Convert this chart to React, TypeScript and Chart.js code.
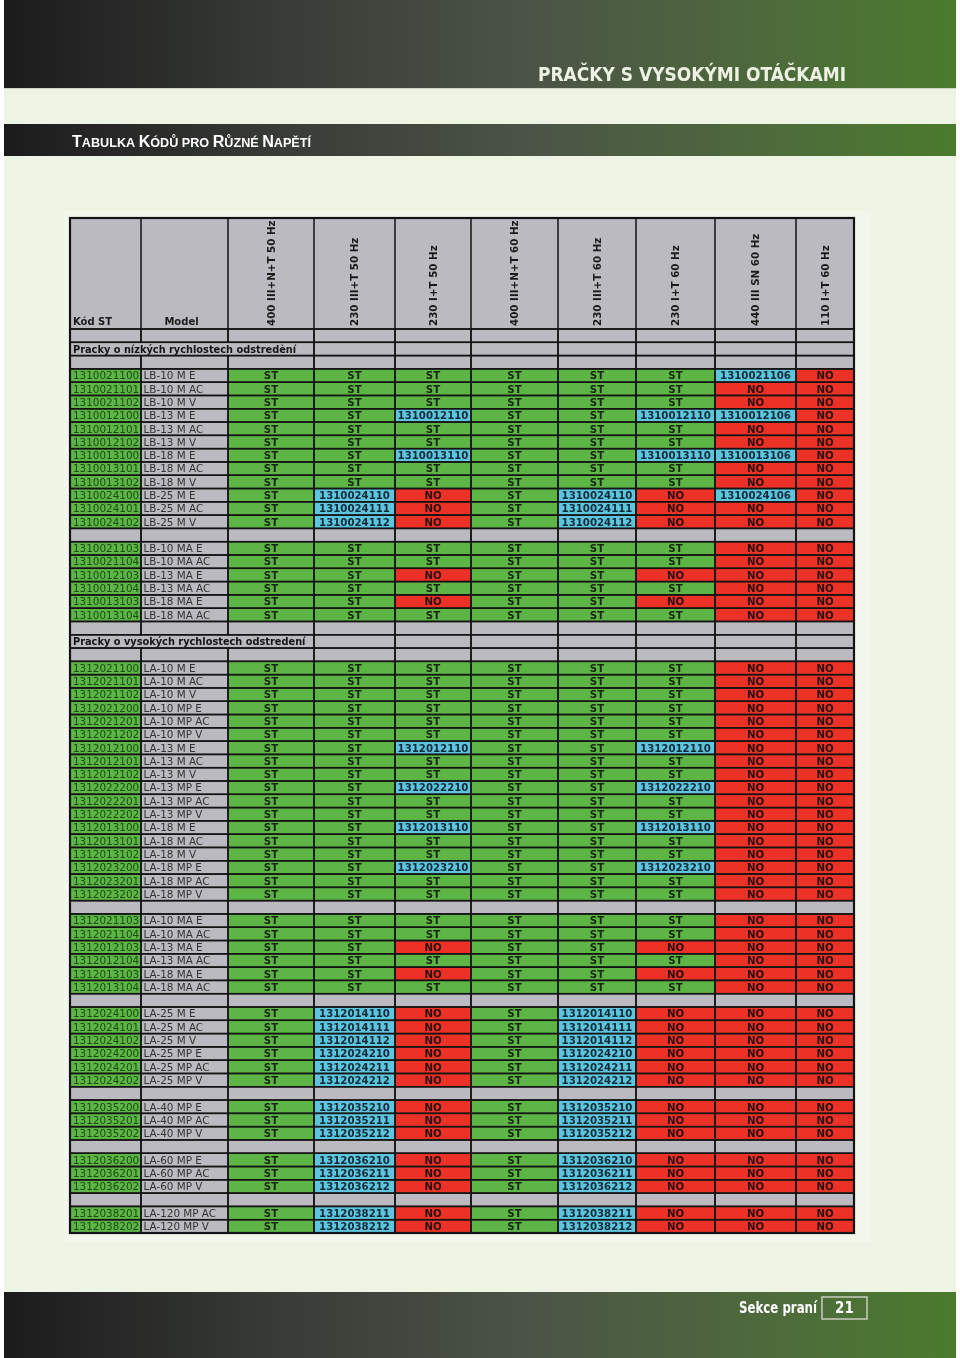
import React, { useEffect, useRef } from "react";
import { Chart, registerables } from "chart.js";

Chart.register(...registerables);

// ---------------- DATA ----------------
const PAGE_TITLE = "PRAČKY S VYSOKÝMI OTÁČKAMI";
const TABLE_TITLE = "Tabulka Kódů pro Různé Napětí";
const FOOTER_SECTION = "Sekce praní";
const PAGE_NUMBER = "21";

const COLUMN_TITLES = [
  "Kód ST",
  "Model",
  "400 III+N+T 50 Hz",
  "230 III+T 50 Hz",
  "230 I+T 50 Hz",
  "400 III+N+T 60 Hz",
  "230 III+T 60 Hz",
  "230 I+T 60 Hz",
  "440 III SN 60 Hz",
  "110 I+T 60 Hz",
];

const SECTION_LOW = "Pracky o nízkých rychlostech odstredèní";
const SECTION_HIGH = "Pracky o vysokých rychlostech odstredení";

const LB_M_ROWS = [
  ["1310021100", "LB-10 M E", "ST", "ST", "ST", "ST", "ST", "ST", "1310021106", "NO"],
  ["1310021101", "LB-10 M AC", "ST", "ST", "ST", "ST", "ST", "ST", "NO", "NO"],
  ["1310021102", "LB-10 M V", "ST", "ST", "ST", "ST", "ST", "ST", "NO", "NO"],
  ["1310012100", "LB-13 M E", "ST", "ST", "1310012110", "ST", "ST", "1310012110", "1310012106", "NO"],
  ["1310012101", "LB-13 M AC", "ST", "ST", "ST", "ST", "ST", "ST", "NO", "NO"],
  ["1310012102", "LB-13 M V", "ST", "ST", "ST", "ST", "ST", "ST", "NO", "NO"],
  ["1310013100", "LB-18 M E", "ST", "ST", "1310013110", "ST", "ST", "1310013110", "1310013106", "NO"],
  ["1310013101", "LB-18 M AC", "ST", "ST", "ST", "ST", "ST", "ST", "NO", "NO"],
  ["1310013102", "LB-18 M V", "ST", "ST", "ST", "ST", "ST", "ST", "NO", "NO"],
  ["1310024100", "LB-25 M E", "ST", "1310024110", "NO", "ST", "1310024110", "NO", "1310024106", "NO"],
  ["1310024101", "LB-25 M AC", "ST", "1310024111", "NO", "ST", "1310024111", "NO", "NO", "NO"],
  ["1310024102", "LB-25 M V", "ST", "1310024112", "NO", "ST", "1310024112", "NO", "NO", "NO"],
];

const LB_MA_ROWS = [
  ["1310021103", "LB-10 MA E", "ST", "ST", "ST", "ST", "ST", "ST", "NO", "NO"],
  ["1310021104", "LB-10 MA AC", "ST", "ST", "ST", "ST", "ST", "ST", "NO", "NO"],
  ["1310012103", "LB-13 MA E", "ST", "ST", "NO", "ST", "ST", "NO", "NO", "NO"],
  ["1310012104", "LB-13 MA AC", "ST", "ST", "ST", "ST", "ST", "ST", "NO", "NO"],
  ["1310013103", "LB-18 MA E", "ST", "ST", "NO", "ST", "ST", "NO", "NO", "NO"],
  ["1310013104", "LB-18 MA AC", "ST", "ST", "ST", "ST", "ST", "ST", "NO", "NO"],
];

const LA_M_ROWS = [
  ["1312021100", "LA-10 M E", "ST", "ST", "ST", "ST", "ST", "ST", "NO", "NO"],
  ["1312021101", "LA-10 M AC", "ST", "ST", "ST", "ST", "ST", "ST", "NO", "NO"],
  ["1312021102", "LA-10 M V", "ST", "ST", "ST", "ST", "ST", "ST", "NO", "NO"],
  ["1312021200", "LA-10 MP E", "ST", "ST", "ST", "ST", "ST", "ST", "NO", "NO"],
  ["1312021201", "LA-10 MP AC", "ST", "ST", "ST", "ST", "ST", "ST", "NO", "NO"],
  ["1312021202", "LA-10 MP V", "ST", "ST", "ST", "ST", "ST", "ST", "NO", "NO"],
  ["1312012100", "LA-13 M E", "ST", "ST", "1312012110", "ST", "ST", "1312012110", "NO", "NO"],
  ["1312012101", "LA-13 M AC", "ST", "ST", "ST", "ST", "ST", "ST", "NO", "NO"],
  ["1312012102", "LA-13 M V", "ST", "ST", "ST", "ST", "ST", "ST", "NO", "NO"],
  ["1312022200", "LA-13 MP E", "ST", "ST", "1312022210", "ST", "ST", "1312022210", "NO", "NO"],
  ["1312022201", "LA-13 MP AC", "ST", "ST", "ST", "ST", "ST", "ST", "NO", "NO"],
  ["1312022202", "LA-13 MP V", "ST", "ST", "ST", "ST", "ST", "ST", "NO", "NO"],
  ["1312013100", "LA-18 M E", "ST", "ST", "1312013110", "ST", "ST", "1312013110", "NO", "NO"],
  ["1312013101", "LA-18 M AC", "ST", "ST", "ST", "ST", "ST", "ST", "NO", "NO"],
  ["1312013102", "LA-18 M V", "ST", "ST", "ST", "ST", "ST", "ST", "NO", "NO"],
  ["1312023200", "LA-18 MP E", "ST", "ST", "1312023210", "ST", "ST", "1312023210", "NO", "NO"],
  ["1312023201", "LA-18 MP AC", "ST", "ST", "ST", "ST", "ST", "ST", "NO", "NO"],
  ["1312023202", "LA-18 MP V", "ST", "ST", "ST", "ST", "ST", "ST", "NO", "NO"],
];

const LA_MA_ROWS = [
  ["1312021103", "LA-10 MA E", "ST", "ST", "ST", "ST", "ST", "ST", "NO", "NO"],
  ["1312021104", "LA-10 MA AC", "ST", "ST", "ST", "ST", "ST", "ST", "NO", "NO"],
  ["1312012103", "LA-13 MA E", "ST", "ST", "NO", "ST", "ST", "NO", "NO", "NO"],
  ["1312012104", "LA-13 MA AC", "ST", "ST", "ST", "ST", "ST", "ST", "NO", "NO"],
  ["1312013103", "LA-18 MA E", "ST", "ST", "NO", "ST", "ST", "NO", "NO", "NO"],
  ["1312013104", "LA-18 MA AC", "ST", "ST", "ST", "ST", "ST", "ST", "NO", "NO"],
];

const LA_25_ROWS = [
  ["1312024100", "LA-25 M E", "ST", "1312014110", "NO", "ST", "1312014110", "NO", "NO", "NO"],
  ["1312024101", "LA-25 M AC", "ST", "1312014111", "NO", "ST", "1312014111", "NO", "NO", "NO"],
  ["1312024102", "LA-25 M V", "ST", "1312014112", "NO", "ST", "1312014112", "NO", "NO", "NO"],
  ["1312024200", "LA-25 MP E", "ST", "1312024210", "NO", "ST", "1312024210", "NO", "NO", "NO"],
  ["1312024201", "LA-25 MP AC", "ST", "1312024211", "NO", "ST", "1312024211", "NO", "NO", "NO"],
  ["1312024202", "LA-25 MP V", "ST", "1312024212", "NO", "ST", "1312024212", "NO", "NO", "NO"],
];

const LA_40_ROWS = [
  ["1312035200", "LA-40 MP E", "ST", "1312035210", "NO", "ST", "1312035210", "NO", "NO", "NO"],
  ["1312035201", "LA-40 MP AC", "ST", "1312035211", "NO", "ST", "1312035211", "NO", "NO", "NO"],
  ["1312035202", "LA-40 MP V", "ST", "1312035212", "NO", "ST", "1312035212", "NO", "NO", "NO"],
];

const LA_60_ROWS = [
  ["1312036200", "LA-60 MP E", "ST", "1312036210", "NO", "ST", "1312036210", "NO", "NO", "NO"],
  ["1312036201", "LA-60 MP AC", "ST", "1312036211", "NO", "ST", "1312036211", "NO", "NO", "NO"],
  ["1312036202", "LA-60 MP V", "ST", "1312036212", "NO", "ST", "1312036212", "NO", "NO", "NO"],
];

const LA_120_ROWS = [
  ["1312038201", "LA-120 MP AC", "ST", "1312038211", "NO", "ST", "1312038211", "NO", "NO", "NO"],
  ["1312038202", "LA-120 MP V", "ST", "1312038212", "NO", "ST", "1312038212", "NO", "NO", "NO"],
];

// ---------------- LAYOUT / STYLE ----------------
const COL_EDGES = [0, 71, 158, 244, 325, 401, 488, 566, 645, 726, 784];
const HEADER_HEIGHT = 111;

const COLORS: Record<string, string> = {
  code: "#5cb544",
  model: "#babac0",
  ST: "#5cb544",
  NO: "#ec3226",
  alt: "#5ec5de",
  gap: "#babac0",
  section: "#babac0",
};

const FONT_TABLE = "'DejaVu Sans', Verdana, sans-serif";
const FONT_NARROW = "'Liberation Sans Narrow', 'DejaVu Sans Condensed', 'Liberation Sans', sans-serif";
const FONT_SANS = "'Liberation Sans', Arial, sans-serif";

type Row =
  | { kind: "gap" }
  | { kind: "section"; title: string }
  | { kind: "data"; cells: string[] };

function buildRows(): Row[] {
  const rows: Row[] = [];
  const gap = () => rows.push({ kind: "gap" });
  const section = (t: string) => rows.push({ kind: "section", title: t });
  const group = (g: string[][]) => g.forEach((cells) => rows.push({ kind: "data", cells }));
  gap(); section(SECTION_LOW); gap();
  group(LB_M_ROWS); gap();
  group(LB_MA_ROWS); gap();
  section(SECTION_HIGH); gap();
  group(LA_M_ROWS); gap();
  group(LA_MA_ROWS); gap();
  group(LA_25_ROWS); gap();
  group(LA_40_ROWS); gap();
  group(LA_60_ROWS); gap();
  group(LA_120_ROWS);
  return rows;
}

function cellKind(row: Row, c: number): string {
  if (row.kind === "gap") return "gap";
  if (row.kind === "section") return c === 0 ? "section" : "gap";
  if (c === 0) return "code";
  if (c === 1) return "model";
  const v = row.cells[c];
  if (v === "ST") return "ST";
  if (v === "NO") return "NO";
  return "alt";
}

function fitText(ctx: CanvasRenderingContext2D, text: string, x: number, y: number, width: number, font: string, color: string) {
  ctx.save();
  ctx.font = font;
  const w = ctx.measureText(text).width;
  ctx.translate(x, y);
  ctx.scale(width / w, 1);
  ctx.fillStyle = color;
  ctx.textAlign = "left";
  ctx.textBaseline = "alphabetic";
  ctx.fillText(text, 0, 0);
  ctx.restore();
}

function drawSmallCaps(ctx: CanvasRenderingContext2D, text: string, x: number, y: number, width: number, bigFont: string, smallFont: string, color: string) {
  const parts = [...text].map((ch) => {
    const upper = ch !== ch.toLowerCase() && ch === ch.toUpperCase();
    return { ch: upper ? ch : ch.toUpperCase(), font: upper ? bigFont : smallFont };
  });
  let total = 0;
  const widths = parts.map((p) => {
    ctx.font = p.font;
    const w = ctx.measureText(p.ch).width;
    total += w;
    return w;
  });
  ctx.save();
  ctx.translate(x, y);
  ctx.scale(width / total, 1);
  ctx.fillStyle = color;
  ctx.textBaseline = "alphabetic";
  ctx.textAlign = "left";
  let cx = 0;
  parts.forEach((p, i) => {
    ctx.font = p.font;
    ctx.fillText(p.ch, cx, 0);
    cx += widths[i];
  });
  ctx.restore();
}

function bandGradient(ctx: CanvasRenderingContext2D) {
  const g = ctx.createLinearGradient(4, 0, 956, 0);
  g.addColorStop(0, "#1b1b1c");
  g.addColorStop(0.3, "#393c37");
  g.addColorStop(0.55, "#4b5346");
  g.addColorStop(0.8, "#4e6a3c");
  g.addColorStop(1, "#4a7b2d");
  return g;
}

export default function App() {
  const canvasRef = useRef<HTMLCanvasElement | null>(null);

  useEffect(() => {
    const canvas = canvasRef.current;
    if (!canvas) return;
    const rows = buildRows();
    const labels = rows.map((r, i) => `row-${i}`);

    const kinds: string[][] = [];
    const texts: string[][] = [];
    const datasets = COLUMN_TITLES.map((title, c) => {
      kinds[c] = rows.map((r) => cellKind(r, c));
      texts[c] = rows.map((r) => {
        if (r.kind === "data") return r.cells[c];
        if (r.kind === "section" && c === 0) return r.title;
        return "";
      });
      return {
        label: title,
        data: rows.map((r) => {
          if (r.kind === "section") {
            if (c === 0) return [COL_EDGES[0], COL_EDGES[3]];
            if (c < 3) return null;
          }
          return [COL_EDGES[c], COL_EDGES[c + 1]];
        }),
        backgroundColor: kinds[c].map((k) => COLORS[k]),
        borderWidth: 0,
        barPercentage: 1,
        categoryPercentage: 1,
        grouped: false,
      };
    });

    const pagePlugin = {
      id: "pageDecor",
      beforeDraw(chart: any) {
        const ctx: CanvasRenderingContext2D = chart.ctx;
        ctx.save();
        ctx.fillStyle = "#ffffff";
        ctx.fillRect(0, 0, 960, 1358);
        ctx.fillStyle = "#eef4e4";
        ctx.fillRect(4, 0, 952, 1358);
        ctx.fillStyle = bandGradient(ctx);
        ctx.fillRect(4, 0, 952, 88);
        ctx.fillStyle = "#cfd6c4";
        ctx.fillRect(4, 88, 952, 1);
        ctx.fillStyle = bandGradient(ctx);
        ctx.fillRect(4, 124, 952, 32);
        ctx.fillStyle = bandGradient(ctx);
        ctx.fillRect(4, 1292, 952, 66);
        ctx.fillStyle = "#f2f7ec";
        ctx.fillRect(64, 211, 807, 1031);
        ctx.restore();

        fitText(ctx, PAGE_TITLE, 538, 81, 308, `bold 19px ${FONT_NARROW}`, "#edf2e4");
        drawSmallCaps(ctx, TABLE_TITLE, 72, 147, 239, `bold 16px ${FONT_SANS}`, `bold 12.5px ${FONT_SANS}`, "#ffffff");
        fitText(ctx, FOOTER_SECTION, 739, 1313, 78, `bold 15px ${FONT_NARROW}`, "#ffffff");
        ctx.save();
        ctx.strokeStyle = "#c9cec0";
        ctx.lineWidth = 1.5;
        ctx.strokeRect(822, 1297, 45, 22);
        ctx.fillStyle = "#ffffff";
        ctx.font = `bold 15px ${FONT_NARROW}`;
        ctx.textAlign = "center";
        ctx.textBaseline = "alphabetic";
        ctx.fillText(PAGE_NUMBER, 844.5, 1313);
        ctx.restore();
      },
      afterDatasetsDraw(chart: any) {
        const ctx: CanvasRenderingContext2D = chart.ctx;
        const xs = chart.scales.x;
        const area = chart.chartArea;
        const hTop = area.top - HEADER_HEIGHT;
        const hBot = area.top;
        const px = (v: number) => xs.getPixelForValue(v);

        ctx.save();
        ctx.fillStyle = COLORS.gap;
        ctx.fillRect(px(COL_EDGES[0]), hTop, px(COL_EDGES[10]) - px(COL_EDGES[0]), HEADER_HEIGHT);

        ctx.strokeStyle = "#141414";
        ctx.lineWidth = 1.5;
        chart.data.datasets.forEach((ds: any, d: number) => {
          const meta = chart.getDatasetMeta(d);
          meta.data.forEach((el: any, i: number) => {
            if (ds.data[i] == null) return;
            const p = el.getProps(["x", "y", "base", "height"], true);
            ctx.strokeRect(p.base, p.y - p.height / 2, p.x - p.base, p.height);
          });
        });
        COL_EDGES.forEach((e) => {
          ctx.beginPath();
          ctx.moveTo(px(e), hTop);
          ctx.lineTo(px(e), hBot);
          ctx.stroke();
        });
        ctx.beginPath();
        ctx.moveTo(px(0), hBot);
        ctx.lineTo(px(784), hBot);
        ctx.stroke();
        ctx.lineWidth = 2.2;
        ctx.strokeRect(px(0), hTop, px(784) - px(0), area.bottom - hTop);

        ctx.fillStyle = "#1a1a1a";
        ctx.font = `bold 10px ${FONT_TABLE}`;
        ctx.textBaseline = "alphabetic";
        ctx.textAlign = "left";
        ctx.fillText(COLUMN_TITLES[0], px(COL_EDGES[0]) + 3, hBot - 4);
        ctx.textAlign = "center";
        ctx.fillText(COLUMN_TITLES[1], (px(COL_EDGES[1]) + px(COL_EDGES[2])) / 2 - 3, hBot - 4);
        ctx.font = `bold 10.3px ${FONT_TABLE}`;
        for (let c = 2; c < COLUMN_TITLES.length; c++) {
          const cx = (px(COL_EDGES[c]) + px(COL_EDGES[c + 1])) / 2;
          ctx.save();
          ctx.translate(cx, hBot - 3);
          ctx.rotate(-Math.PI / 2);
          ctx.textAlign = "left";
          ctx.fillText(COLUMN_TITLES[c], 0, 3.8);
          ctx.restore();
        }

        chart.data.datasets.forEach((ds: any, d: number) => {
          const meta = chart.getDatasetMeta(d);
          meta.data.forEach((el: any, i: number) => {
            if (ds.data[i] == null) return;
            const t = texts[d][i];
            if (!t) return;
            const k = kinds[d][i];
            const p = el.getProps(["x", "y", "base", "height"], true);
            const by = p.y + 3.8;
            if (k === "code") {
              ctx.font = `10.4px ${FONT_TABLE}`;
              ctx.fillStyle = "#1a4c12";
              ctx.textAlign = "left";
              ctx.fillText(t, p.base + 3, by);
            } else if (k === "model") {
              ctx.font = `10.4px ${FONT_TABLE}`;
              ctx.fillStyle = "#333333";
              ctx.textAlign = "left";
              ctx.fillText(t, p.base + 2.5, by);
            } else if (k === "section") {
              ctx.font = `bold 9.8px ${FONT_TABLE}`;
              ctx.fillStyle = "#141414";
              ctx.textAlign = "left";
              ctx.fillText(t, p.base + 3, by);
            } else {
              ctx.font = `bold 10.2px ${FONT_TABLE}`;
              ctx.fillStyle = k === "alt" ? "#0f2b3a" : k === "NO" ? "#2a0c08" : "#17260f";
              ctx.textAlign = "center";
              ctx.fillText(t, (p.base + p.x) / 2, by);
            }
          });
        });
        ctx.restore();
      },
    };

    const chart = new Chart(canvas, {
      type: "bar",
      data: { labels, datasets: datasets as any },
      options: {
        indexAxis: "y",
        animation: false,
        responsive: false,
        maintainAspectRatio: false,
        devicePixelRatio: 1,
        events: [],
        layout: { padding: { left: 70, right: 106, top: 218 + HEADER_HEIGHT, bottom: 125 } },
        scales: {
          x: { type: "linear", min: 0, max: 784, display: false },
          y: { type: "category", display: false, offset: true },
        },
        plugins: { legend: { display: false }, tooltip: { enabled: false } },
      },
      plugins: [pagePlugin],
    });
    return () => chart.destroy();
  }, []);

  return (
    <div style={{ position: "absolute", left: 0, top: 0, width: 960, height: 1358 }}>
      <canvas ref={canvasRef} width={960} height={1358} style={{ display: "block", width: 960, height: 1358 }} />
    </div>
  );
}
